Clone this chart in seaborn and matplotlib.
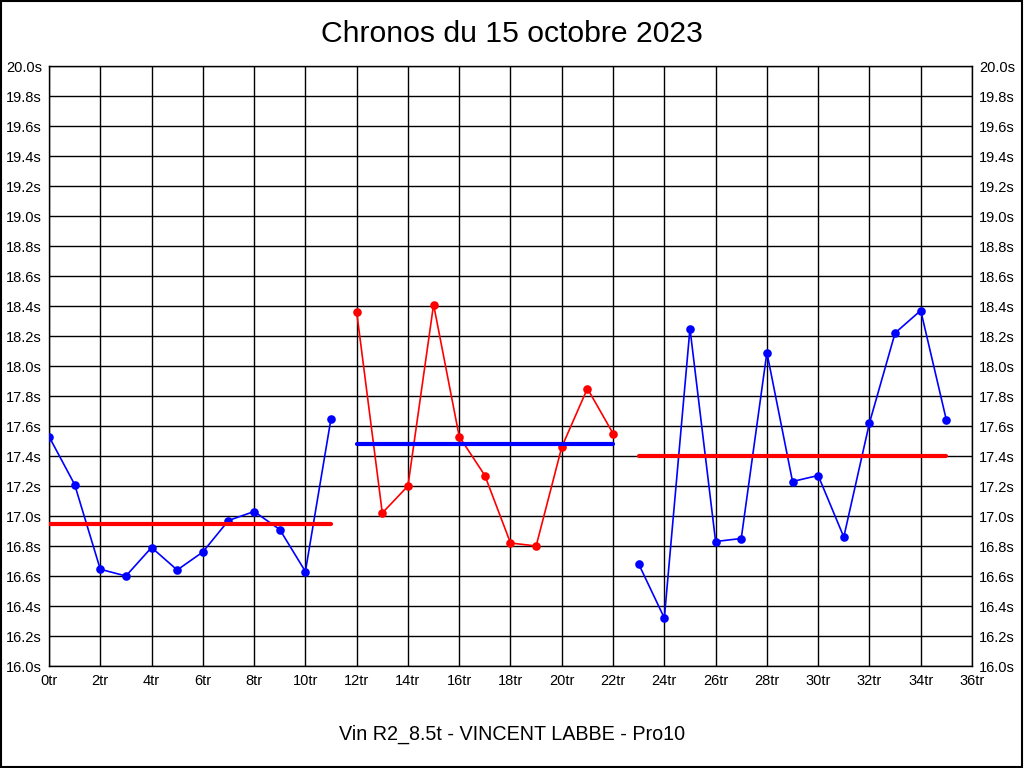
import numpy as np
import pandas as pd
import seaborn as sns
import matplotlib.pyplot as plt
from matplotlib.patches import Rectangle

# lap times (s), three runs
laps_1 = list(range(0, 12))
times_1 = [17.53, 17.21, 16.645, 16.60, 16.79, 16.64, 16.76, 16.97, 17.03, 16.91, 16.63, 17.65]
laps_2 = list(range(12, 23))
times_2 = [18.36, 17.02, 17.20, 18.41, 17.53, 17.27, 16.82, 16.80, 17.46, 17.85, 17.55]
laps_3 = list(range(23, 36))
times_3 = [16.68, 16.32, 18.25, 16.83, 16.85, 18.09, 17.23, 17.27, 16.86, 17.62, 18.22, 18.37, 17.64]

line_colors = ["blue", "red", "blue"]
mean_colors = ["red", "blue", "red"]

x_ticks = list(range(0, 37, 2))
y_ticks = [round(16.0 + 0.2 * i, 1) for i in range(21)]

sns.set_style("white")
plt.rcParams['font.family'] = ['Liberation Sans', 'DejaVu Sans']
plt.rcParams['text.color'] = 'black'

fig = plt.figure(figsize=(10.24, 7.68), dpi=100)
ax = fig.add_axes([49 / 1024, 102 / 768, 923 / 1024, 600 / 768])

runs = [(laps_1, times_1), (laps_2, times_2), (laps_3, times_3)]
for i, (laps, times) in enumerate(runs):
    df = pd.DataFrame({"lap": laps, "time": times})
    sns.lineplot(data=df, x="lap", y="time", ax=ax, color=line_colors[i],
                 lw=1.2, marker="o", markersize=6.2, markeredgewidth=0, zorder=3)
    ax.plot([laps[0], laps[-1]], [np.mean(times)] * 2, color=mean_colors[i], lw=3, zorder=4)

ax.set_xlim(0, 36)
ax.set_ylim(16.0, 20.0)
ax.set_xticks(x_ticks)
ax.set_xticklabels([f"{t}tr" for t in x_ticks])
ax.set_yticks(y_ticks)
ax.set_yticklabels([f"{t:.1f}s" for t in y_ticks])
ax.tick_params(axis="both", length=0, labelsize=10.5, colors="black")
ax.tick_params(axis="y", pad=5, labelright=True, right=False)
ax.tick_params(axis="x", pad=6)
ax.grid(True, color="black", lw=1)
for s in ax.spines.values():
    s.set_color("black")
    s.set_linewidth(1)
ax.set_xlabel("")
ax.set_ylabel("")

fig.text(0.5, 1 - 34 / 768, "Chronos du 15 octobre 2023", ha="center", va="center",
         fontsize=21.7, color="black")
fig.text(0.5, 1 - 734 / 768, "Vin R2_8.5t - VINCENT LABBE - Pro10", ha="center", va="center",
         fontsize=14.2, color="black")
fig.patches.append(Rectangle((0.0005, 0.0007), 0.998, 0.998, transform=fig.transFigure,
                             fill=False, edgecolor="black", lw=1.5))

fig.savefig("out.png", dpi=100)
